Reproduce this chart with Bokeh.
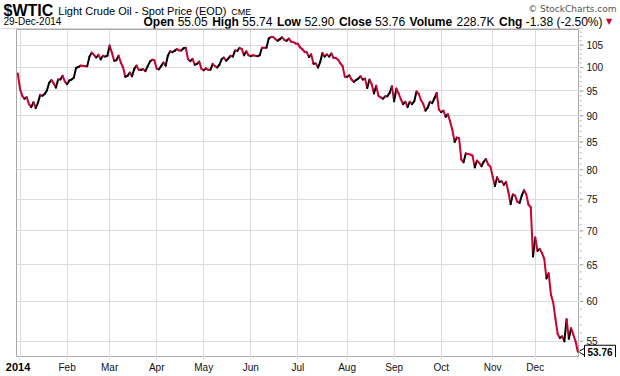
import pandas as pd
from bokeh.plotting import figure
from bokeh.layouts import column, row
from bokeh.models import Range1d, FixedTicker, Grid, ColumnDataSource
from bokeh.core.properties import value
from bokeh.embed import file_html
from bokeh.resources import INLINE

# ---------------- data ----------------
symbol = "$WTIC"
title_text = "Light Crude Oil - Spot Price (EOD)"
exchange = "CME"
last_date = "29-Dec-2014"
stats = [("Open", "55.05"), ("High", "55.74"), ("Low", "52.90"), ("Close", "53.76"),
         ("Volume", "228.7K"), ("Chg", "-1.38 (-2.50%)")]
last_close = 53.76
credit = "\u00a9 StockCharts.com"

holidays = ["2014-01-01", "2014-01-20", "2014-02-17", "2014-04-18", "2014-05-26",
            "2014-07-04", "2014-09-01", "2014-11-27", "2014-12-25"]

dec2013 = [98.7]
jan = [95.4, 94.0, 93.4, 93.7, 92.3, 91.7, 92.7, 91.5, 92.6, 94.2, 94.0, 94.4, 95.1, 96.7,
       97.3, 96.6, 95.7, 97.4, 97.4, 98.2, 97.0]
feb = [96.4, 97.2, 97.4, 97.8, 99.9, 100.1, 100.4, 100.4, 100.3, 100.3, 102.4, 103.3, 102.8,
       102.2, 102.8, 101.8, 102.6, 102.4, 102.6]
mar = [104.9, 103.3, 101.5, 101.6, 102.6, 101.1, 100.0, 98.0, 98.2, 98.9, 98.1, 99.7, 100.4,
       99.5, 99.5, 99.6, 99.2, 100.3, 101.3, 101.7, 101.6]
apr = [99.7, 99.6, 100.3, 101.1, 100.4, 102.6, 103.6, 103.4, 103.7, 104.1, 103.8, 103.8,
       104.3, 104.4, 101.8, 101.4, 101.9, 100.6, 100.8, 101.3, 99.7]
may = [99.4, 99.8, 99.5, 99.5, 100.8, 100.3, 100.0, 100.6, 101.8, 102.2, 101.5, 102.0, 102.6,
       102.4, 103.8, 103.7, 104.4, 104.1, 102.7, 103.6, 102.7]
jun = [102.5, 102.7, 102.6, 102.5, 102.7, 104.4, 104.4, 104.4, 106.5, 106.9, 106.9, 106.4,
       106.0, 106.4, 106.8, 106.2, 106.0, 106.5, 105.8, 105.7, 105.4]
jul = [105.3, 104.5, 104.1, 103.5, 103.4, 102.3, 102.9, 100.8, 100.9, 100.0, 101.2, 103.2,
       102.4, 102.9, 102.4, 103.1, 102.1, 102.1, 101.7, 100.9, 100.3, 98.0]
aug = [98.0, 98.3, 97.4, 96.9, 97.3, 97.6, 98.1, 97.4, 97.6, 95.6, 97.4, 96.4, 94.5, 96.1,
       94.0, 93.7, 93.4, 93.9, 93.9, 94.6, 96.0]
sep = [92.9, 95.5, 94.5, 93.3, 92.3, 92.8, 91.7, 92.8, 92.3, 92.9, 94.9, 94.4, 93.1, 92.4,
       91.0, 91.6, 92.8, 92.5, 93.5, 94.6, 91.2]
oct_ = [90.7, 91.0, 89.8, 90.3, 88.9, 87.3, 85.0, 85.8, 85.7, 81.8, 81.3, 82.9, 82.8, 82.7,
        82.5, 80.4, 81.6, 81.2, 80.6, 81.4, 81.9, 80.9, 80.5]
nov = [78.8, 77.2, 78.7, 77.9, 78.0, 77.4, 77.9, 76.2, 74.2, 75.8, 75.6, 74.6, 74.4, 75.6,
       76.5, 75.8, 74.1, 73.7, 66.2]
dec = [69.0, 67.0, 67.3, 66.7, 65.9, 63.1, 63.8, 60.9, 59.9, 57.8, 55.9, 55.4, 55.6, 55.0,
       57.7, 55.3, 56.6, 55.8, 55.0, 53.76]

y_ticks = [55, 60, 65, 70, 75, 80, 85, 90, 95, 100, 105]
y_minor = list(range(54, 109))
month_labels = ["2014", "Feb", "Mar", "Apr", "May", "Jun", "Jul", "Aug", "Sep", "Oct", "Nov", "Dec"]

# ---------------- build ----------------
prices = dec2013 + jan + feb + mar + apr + may + jun + jul + aug + sep + oct_ + nov + dec
days = pd.bdate_range("2013-12-31", "2014-12-29")
days = days[~days.isin(pd.to_datetime(holidays))]
n = min(len(days), len(prices))
days = days[:n]
prices = prices[:n]
idx = list(range(n))

month_idx = []
for m in range(1, 13):
    for i, d in enumerate(days):
        if d.year == 2014 and d.month == m:
            month_idx.append(i)
            break

RED = "#cc0033"
GRAY = "#a8a8a8"
x0, y0, x1, y1, cols = [], [], [], [], []
for i in range(1, n):
    x0.append(idx[i - 1]); y0.append(prices[i - 1])
    x1.append(idx[i]); y1.append(prices[i])
    cols.append("#000000" if prices[i] > prices[i - 1] else RED)
seg = ColumnDataSource(dict(x0=x0, y0=y0, x1=x1, y1=y1, c=cols))

W, H = 620, 376
L, R, T, B = 16, 579, 29, 357
XR = Range1d(-0.58, 250.76)
YR = Range1d(53.09, 108.65)


def bare(**kw):
    f = figure(output_backend="svg", toolbar_location=None, title=None,
               x_axis_location=None, y_axis_location=None,
               min_border_left=0, min_border_right=0, min_border_top=0, min_border_bottom=0, **kw)
    f.center = []
    f.outline_line_color = None
    f.background_fill_color = "white"
    f.border_fill_color = "white"
    return f


# ---- main plot ----
p = bare(width=R, height=B - T, x_range=XR, y_range=YR, y_axis_type="log")
p.min_border_left = L
p.outline_line_color = GRAY
p.add_layout(Grid(dimension=0, ticker=FixedTicker(ticks=month_idx), grid_line_color="#dcdcdc"))
p.add_layout(Grid(dimension=1, ticker=FixedTicker(ticks=y_ticks), grid_line_color="#dcdcdc"))
p.segment("x0", "y0", "x1", "y1", source=seg, line_color="c", line_width=2, line_cap="round")

# ---- right price scale ----
rs = bare(width=W - R, height=B - T, x_range=Range1d(0, W - R), y_range=YR, y_axis_type="log")
rs.segment(x0=[0] * len(y_minor), y0=y_minor, x1=[2] * len(y_minor), y1=y_minor, line_color=GRAY)
rs.segment(x0=[0] * len(y_ticks), y0=y_ticks, x1=[4] * len(y_ticks), y1=y_ticks, line_color=GRAY)
rs.text(x=[7] * len(y_ticks), y=y_ticks, text=[str(t) for t in y_ticks],
        text_font=value("Liberation Sans"), text_font_size=value("10px"),
        text_color="#111111", text_baseline="middle", text_align="left")
rs.scatter(x=[3.5], y=[last_close], marker="triangle", angle=1.5708, size=8,
           fill_color="white", line_color="black")
rs.rect(x=[20.5], y=[last_close], width=[31], height=[13], height_units="screen",
        fill_color="white", line_color="black")
rs.text(x=[20.5], y=[last_close], text=[f"{last_close:.2f}"],
        text_font=value("Liberation Sans"), text_font_size=value("10px"),
        text_font_style="bold", text_baseline="middle", text_align="center")

# ---- footer (month labels) ----
k = (XR.end - XR.start) / (R - L)
ft = bare(width=W, height=H - B, x_range=Range1d(XR.start - L * k, XR.end + (W - R) * k),
          y_range=Range1d(H - B, 0))
ft.segment(x0=month_idx, y0=[0] * len(month_idx), x1=month_idx, y1=[2] * len(month_idx),
           line_color="#cccccc")
ft.text(x=month_idx[1:], y=[9.5] * (len(month_idx) - 1), text=month_labels[1:],
        text_font=value("Liberation Sans"), text_font_size=value("10px"),
        text_color="#111111", text_baseline="middle", text_align="center")
ft.text(x=[month_idx[0]], y=[9.5], text=[month_labels[0]],
        text_font=value("Liberation Sans"), text_font_size=value("11px"), text_font_style="bold",
        text_baseline="middle", text_align="center", x_offset=-2)

# ---- header ----
hd = bare(width=W, height=T, x_range=Range1d(0, W), y_range=Range1d(T, 0))

REG = {"0": 556, "1": 556, "2": 556, "3": 556, "4": 556, "5": 556, "6": 556, "7": 556, "8": 556,
       "9": 556, ".": 278, " ": 278, "-": 333, "(": 333, ")": 333, "%": 889, "K": 667}
BLD = {"O": 778, "p": 611, "e": 556, "n": 611, "H": 722, "i": 278, "g": 611, "h": 611, "L": 611,
       "o": 611, "w": 778, "C": 722, "l": 278, "s": 556, "V": 667, "u": 611, "m": 889,
       "$": 556, "W": 944, "T": 611, "I": 278}


def tw(s, table, size):
    return sum(table.get(ch, 556) for ch in s) * size / 1000.0


def htext(x, y, s, size, bold=False, color="#000000", font="Liberation Sans", align="left"):
    hd.text(x=[x], y=[y], text=[s], text_font=value(font), text_font_size=value(f"{size}px"),
            text_font_style="bold" if bold else "normal", text_color=color,
            text_align=align, text_baseline="middle")


htext(3, 10, symbol, 16, bold=True)
tx = 3 + tw(symbol, BLD, 16) + 5
htext(tx, 10.5, title_text, 11)
htext(tx + 173, 11, exchange, 9)
htext(616, 8, credit, 9, color="#555555", font="DejaVu Sans", align="right")
htext(3, 21, last_date, 10)
sx = 143
fs = 12
for name, val in stats:
    htext(sx, 21, name, fs, bold=True)
    sx += tw(name, BLD, fs) + 3.5
    htext(sx, 21, val, fs)
    sx += tw(val, REG, fs) + 4.5
htext(sx - 1, 21, "\u25bc", 8, color=RED, font="DejaVu Sans")
hd.segment(x0=[0], y0=[28.5], x1=[R + 4], y1=[28.5], line_color=GRAY, line_width=1)

layout = column(hd, row(p, rs, spacing=0), ft, spacing=0)
open("out.html", "w").write(file_html(layout, INLINE))
